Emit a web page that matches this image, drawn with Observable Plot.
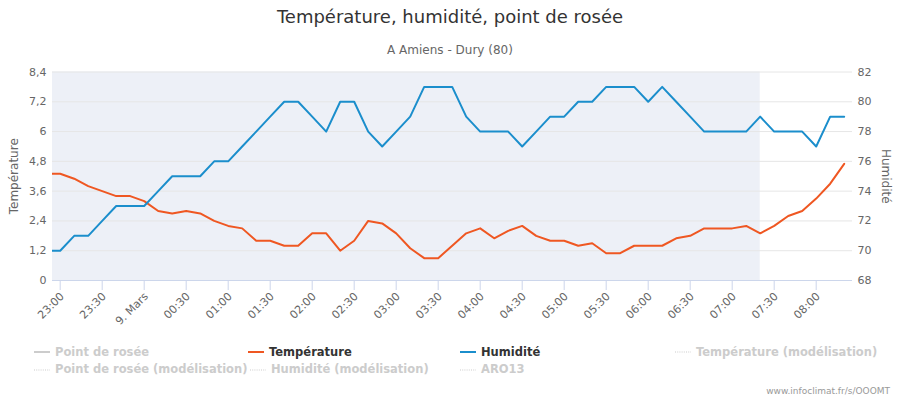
<!DOCTYPE html>
<html><head><meta charset="utf-8">
<script src="https://cdn.jsdelivr.net/npm/d3@7"></script>
<script src="https://cdn.jsdelivr.net/npm/@observablehq/plot@0.6"></script>
<style>
body{margin:0;background:#fff;}
#wrap{position:relative;width:900px;height:400px;overflow:hidden;font-family:"DejaVu Sans",sans-serif;background:#fff;}
#wrap svg.plot{position:absolute;left:0;top:0;}
.t{position:absolute;white-space:nowrap;line-height:1;}
</style></head><body><div id="wrap"></div>
<script>
// ---- data ----
const times = ["22:50","23:00","23:10","23:20","23:30","23:40","23:50",
  "00:00","00:10","00:20","00:30","00:40","00:50",
  "01:00","01:10","01:20","01:30","01:40","01:50",
  "02:00","02:10","02:20","02:30","02:40","02:50",
  "03:00","03:10","03:20","03:30","03:40","03:50",
  "04:00","04:10","04:20","04:30","04:40","04:50",
  "05:00","05:10","05:20","05:30","05:40","05:50",
  "06:00","06:10","06:20","06:30","06:40","06:50",
  "07:00","07:10","07:20","07:30","07:40","07:50",
  "08:00","08:10","08:20"];
const temperature = [4.3,4.3,4.1,3.8,3.6,3.4,3.4,
  3.2,2.8,2.7,2.8,2.7,2.4,
  2.2,2.1,1.6,1.6,1.4,1.4,
  1.9,1.9,1.2,1.6,2.4,2.3,
  1.9,1.3,0.9,0.9,1.4,1.9,
  2.1,1.7,2.0,2.2,1.8,1.6,
  1.6,1.4,1.5,1.1,1.1,1.4,
  1.4,1.4,1.7,1.8,2.1,2.1,
  2.1,2.2,1.9,2.2,2.6,2.8,
  3.3,3.9,4.7];
const humidity = [70,70,71,71,72,73,73,
  73,74,75,75,75,76,
  76,77,78,79,80,80,
  79,78,80,80,78,77,
  78,79,81,81,81,79,
  78,78,78,77,78,79,
  79,80,80,81,81,81,
  80,81,80,79,78,78,
  78,78,79,78,78,78,
  77,79,79];
const xTickTimes = ["23:00","23:30","00:00","00:30","01:00","01:30","02:00","02:30","03:00","03:30",
  "04:00","04:30","05:00","05:30","06:00","06:30","07:00","07:30","08:00"];
const tempTicks = [0,1.2,2.4,3.6,4.8,6,7.2,8.4];
const humTicks = [68,70,72,74,76,78,80,82];
const observedUntil = "07:20";
const midnightLabel = "9. Mars";
const titleText = "Température, humidité, point de rosée";
const subtitleText = "A Amiens - Dury (80)";
const creditText = "www.infoclimat.fr/s/OOOMT";
const yLeftTitle = "Température";
const yRightTitle = "Humidité";
const legendNames = ["Point de rosée","Température","Humidité","Température (modélisation)",
  "Point de rosée (modélisation)","Humidité (modélisation)","ARO13"];

// ---- layout / style ----
const TEMP_COLOR = "#ef5722", HUM_COLOR = "#1b8ecc", INACTIVE = "#cccccc";
const legendStyle = [
  {x:34,  row:0, color:INACTIVE, text:INACTIVE, dotted:false},
  {x:248, row:0, color:TEMP_COLOR, text:"#333", dotted:false},
  {x:460, row:0, color:HUM_COLOR, text:"#333", dotted:false},
  {x:675, row:0, color:INACTIVE, text:INACTIVE, dotted:true},
  {x:34,  row:1, color:INACTIVE, text:INACTIVE, dotted:true},
  {x:250, row:1, color:INACTIVE, text:INACTIVE, dotted:true},
  {x:460, row:1, color:INACTIVE, text:INACTIVE, dotted:true}
];

const toDate = (hhmm) => {
  const [h, m] = hhmm.split(":").map(Number);
  return new Date(Date.UTC(2025, 2, h >= 12 ? 8 : 9, h, m));
};
const rows = times.map((t, i) => ({date: toDate(t), temp: temperature[i], hum: humidity[i]}));
const xTicks = xTickTimes.map(toDate);
const humToY = (h) => (h - 68) * 0.6;
const fmtComma = (v) => String(+v.toFixed(1)).replace(".", ",");
const fmtTime = (d) => (d.getUTCHours() === 0 && d.getUTCMinutes() === 0) ? midnightLabel : d3.utcFormat("%H:%M")(d);

const xStart = new Date(Date.UTC(2025, 2, 8, 22, 54, 30));
const xEnd = new Date(Date.UTC(2025, 2, 9, 8, 25, 56));

const chart = Plot.plot({
  width: 900, height: 400,
  marginTop: 71.5, marginBottom: 120, marginLeft: 52, marginRight: 48,
  style: {fontFamily: "DejaVu Sans", fontSize: "11px", color: "#666", background: "transparent"},
  x: {type: "utc", domain: [xStart, xEnd]},
  y: {domain: [0, 8.4]},
  marks: [
    Plot.rect([{a: xStart, b: toDate(observedUntil)}], {x1: "a", x2: "b", fill: "#edf0f7"}),
    Plot.gridY({ticks: tempTicks, stroke: "#e6e6e6", strokeOpacity: 1}),
    Plot.ruleY([0], {stroke: "#ccd6eb"}),
    Plot.axisX({ticks: xTicks, tickSize: 10, stroke: "#ccd6eb", fill: "none", label: null}),
    Plot.text(xTicks, {x: d => d, text: fmtTime, frameAnchor: "bottom", rotate: -45, textAnchor: "end", lineAnchor: "middle", dx: 2, dy: 14, fill: "#666", fontSize: 11}),
    Plot.axisY({ticks: tempTicks, anchor: "left", tickSize: 0, tickPadding: 6, tickFormat: fmtComma, fill: "#666", fontSize: 11, label: null}),
    Plot.axisY({ticks: humTicks.map(humToY), anchor: "right", tickSize: 0, tickPadding: 5, tickFormat: (y) => String(Math.round(68 + y / 0.6)), fill: "#666", fontSize: 11, label: null}),
    Plot.text([yLeftTitle], {frameAnchor: "left", dx: -38.5, rotate: -90, textAnchor: "middle", lineAnchor: "middle", fill: "#666", fontSize: 12}),
    Plot.text([yRightTitle], {frameAnchor: "right", dx: 33, rotate: 90, textAnchor: "middle", lineAnchor: "middle", fill: "#666", fontSize: 12}),
    Plot.line(rows, {x: "date", y: "temp", stroke: TEMP_COLOR, strokeWidth: 2, clip: true}),
    Plot.line(rows, {x: "date", y: d => humToY(d.hum), stroke: HUM_COLOR, strokeWidth: 2, clip: true})
  ]
});
chart.classList.add("plot");
const wrap = document.getElementById("wrap");
wrap.appendChild(chart);

function addText(txt, css) {
  const d = document.createElement("div");
  d.className = "t";
  d.textContent = txt;
  Object.assign(d.style, css);
  wrap.appendChild(d);
  return d;
}
addText(titleText, {left: "0", width: "900px", textAlign: "center", top: "8px", fontSize: "18px", color: "#333"});
addText(subtitleText, {left: "0", width: "900px", textAlign: "center", top: "43.5px", fontSize: "12px", color: "#666"});
addText(creditText, {right: "10px", top: "386.5px", fontSize: "9px", color: "#999"});

const rowBase = [346.5, 364];
legendNames.forEach((name, i) => {
  const s = legendStyle[i];
  const cy = rowBase[s.row] + 5.5;
  const ns = "http://www.w3.org/2000/svg";
  const sym = document.createElementNS(ns, "svg");
  sym.setAttribute("width", 16); sym.setAttribute("height", 4);
  sym.style.position = "absolute"; sym.style.left = s.x + "px"; sym.style.top = (cy - 2) + "px";
  const ln = document.createElementNS(ns, "line");
  ln.setAttribute("x1", 0); ln.setAttribute("x2", 16); ln.setAttribute("y1", 2); ln.setAttribute("y2", 2);
  ln.setAttribute("stroke", s.color);
  ln.setAttribute("stroke-width", s.dotted ? 1.2 : 2);
  if (s.dotted) ln.setAttribute("stroke-dasharray", "1 1.2");
  sym.appendChild(ln);
  wrap.appendChild(sym);
  addText(name, {left: (s.x + 21) + "px", top: rowBase[s.row] + "px", fontSize: "11.5px", fontWeight: "bold", color: s.text});
});
</script></body></html>
